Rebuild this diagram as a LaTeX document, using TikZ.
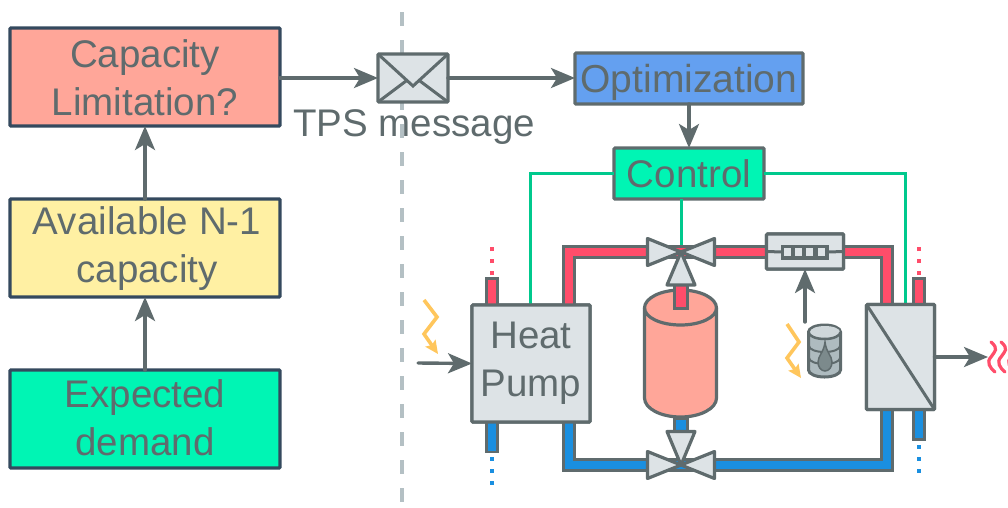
\documentclass[tikz,border=0pt]{standalone}
\usepackage{fontspec}
\setmainfont{Liberation Sans}
\usetikzlibrary{arrows.meta,calc}
\definecolor{ink}{HTML}{5F6B6D}
\definecolor{navy}{HTML}{34495E}
\definecolor{salmon}{HTML}{FFA699}
\definecolor{cream}{HTML}{FFF0A3}
\definecolor{mint}{HTML}{00F5B4}
\definecolor{optblue}{HTML}{64A0F0}
\definecolor{wire}{HTML}{00C98D}
\definecolor{hot}{HTML}{FF4D6A}
\definecolor{cold}{HTML}{1A8FE0}
\definecolor{pale}{HTML}{DDE3E6}
\definecolor{bolt}{HTML}{FFC65C}
\definecolor{dashc}{HTML}{B4C0C4}
\definecolor{barrel}{HTML}{AEBBBF}
\definecolor{drop}{HTML}{7C8A8C}
\newcommand{\twolines}[3]{\raisebox{-5pt}[40pt][40pt]{\begin{tabular}{@{}c@{}}\rule{0pt}{#1}#2\\#3\end{tabular}}}
\tikzset{
  every node/.style={text=ink,inner sep=0pt,outer sep=0pt,align=center,font=\fontsize{38.5}{48}\selectfont},
  leftbox/.style={draw=navy,line width=3.2pt,rounded corners=1pt,minimum width=270pt,minimum height=98pt},
  topbox/.style={draw=ink,line width=3.2pt,rounded corners=1pt},
  unit/.style={draw=ink,line width=3.2pt,rounded corners=1pt,fill=pale},
  flow/.style={draw=ink,line width=3.4pt,line cap=round,-{Stealth[length=24pt,width=20pt,inset=6pt,fill=ink]}},
  ctrl/.style={draw=wire,line width=3pt},
  pipeout/.style={draw=ink,line width=13.5pt},
  hotline/.style={draw=hot,line width=8pt},
  coldline/.style={draw=cold,line width=8pt},
  hotdots/.style={draw=hot,line width=4pt,dash pattern=on 4pt off 8pt},
  colddots/.style={draw=cold,line width=4pt,dash pattern=on 4pt off 8pt},
  zap/.style={draw=bolt,line width=3.6pt,-{Stealth[length=13pt,width=12pt,inset=2pt]}},
  valve/.style={draw=ink,line width=3.2pt,fill=pale,line join=round},
  thin/.style={draw=ink,line width=3pt},
  wave/.style={draw=hot,line width=3.2pt,line cap=round},
}
\begin{document}
\begin{tikzpicture}[x=1pt,y=-1pt]
\useasboundingbox (0,0) rectangle (1008,507);
% divider
\draw[dashc,line width=4pt,dash pattern=on 14pt off 14pt] (402,12) -- (402,507);
% left column
\node[leftbox,fill=salmon] (cap) at (145,77) {\twolines{45.6pt}{Capacity}{Limitation?}};
\node[leftbox,fill=cream] (avail) at (145,248) {\hspace*{4pt}\twolines{37.6pt}{Available N-1}{capacity}};
\node[leftbox,fill=mint] (demand) at (145,419) {\twolines{42.6pt}{Expected}{demand}};
\draw[flow] (demand) -- (avail);
\draw[flow] (avail) -- (cap);
% top row
\node[unit,minimum width=70pt,minimum height=48pt] (env) at (413,78) {};
\draw[thin] (env.north west) -- ($(env.center)+(0,8)$) -- (env.north east);
\draw[thin] (env.south west) -- ($(env.center)+(-7,3)$);
\draw[thin] (env.south east) -- ($(env.center)+(7,3)$);
\node[topbox,fill=optblue,minimum width=228pt,minimum height=51pt,text depth=0pt,font=\fontsize{39}{48}\selectfont] (opt) at (689,78.5) {Optimization};
\node[topbox,fill=mint,minimum width=150pt,minimum height=51pt] (ctl) at (689,173.5) {Control};
\draw[flow] (cap.east|-env) -- (env);
\draw[flow] (env) -- (opt.west|-env);
\draw[flow] (opt) -- (ctl);
\node (tps) at (414,127) {TPS message};
% plant nodes
\node[unit,minimum width=118pt,minimum height=117pt] (pump) at (531,363.5) {};
\node[unit,minimum width=68pt,minimum height=105pt] (hx) at (900.5,357) {};
\node[unit,minimum width=77pt,minimum height=35pt] (meter) at (805,251.5) {};
\coordinate (vt) at (681,252);
\coordinate (vb) at (681,465);
% control wires
\draw[ctrl] (ctl.west) -| ($(pump.north west)+(58,0)$);
\draw[ctrl] (ctl.east) -| ($(hx.north west)+(39,0)$);
\draw[ctrl] (ctl.south-|vt) -- (vt);
% hot circuit
\coordinate (pl) at (569,305);
\coordinate (pc1) at (569,252);
\coordinate (hxl) at (887,305);
\coordinate (pc2) at (887,252);
\draw[pipeout,line join=miter] (pl) -- (pc1) -- (vt);
\draw[hotline,line join=miter] (pl) -- (pc1) -- (vt);
\draw[pipeout,line join=miter] (hxl) -- (pc2) -- (vt);
\draw[hotline,line join=miter] (hxl) -- (pc2) -- (vt);
% cold circuit
\coordinate (pb) at (569,422);
\coordinate (cc1) at (569,465);
\coordinate (hxb) at (887,409);
\coordinate (cc2) at (887,465);
\draw[pipeout,line join=miter] (pb) -- (cc1) -- (vb);
\draw[coldline,line join=miter] (pb) -- (cc1) -- (vb);
\draw[pipeout,line join=miter] (hxb) -- (cc2) -- (vb);
\draw[coldline,line join=miter] (hxb) -- (cc2) -- (vb);
% stubs
\coordinate (s1a) at (492,305); \coordinate (s1b) at (492,277);
\draw[pipeout] (s1a) -- (s1b); \draw[hotline] (s1a) -- (492,279.5);
\draw[hotdots] (492,275) -- (492,247);
\coordinate (s2a) at (492,422); \coordinate (s2b) at (492,453);
\draw[pipeout] (s2a) -- (s2b); \draw[coldline] (s2a) -- (492,450.5);
\draw[colddots] (492,457) -- (492,485);
\coordinate (s3a) at (919,305); \coordinate (s3b) at (919,277);
\draw[pipeout] (s3a) -- (s3b); \draw[hotline] (s3a) -- (919,279.5);
\draw[hotdots] (919,275) -- (919,247);
\coordinate (s4a) at (919,409); \coordinate (s4b) at (919,440.5);
\draw[pipeout] (s4a) -- (s4b); \draw[coldline] (s4a) -- (919,438);
\draw[colddots] (919,445) -- (919,473);
% redraw units above pipes
\node[unit,minimum width=118pt,minimum height=117pt] at (pump) {\twolines{34.6pt}{Heat}{Pump}};
\node[unit,minimum width=68pt,minimum height=105pt] at (hx) {};
\draw[thin] (hx.north west) -- (hx.south east);
\node[unit,minimum width=77pt,minimum height=35pt] at (meter) {};
\node[draw=ink,line width=3pt,fill=ink,minimum width=45pt,minimum height=12pt] (gauge) at (805,252) {};
\draw[thin] (meter.west) -- (gauge.west);
\draw[thin] (gauge.east) -- (meter.east);
\foreach \gx in {787,798,809.5,821}{\fill[pale] (\gx-3.5,248) rectangle (\gx+3.5,256);}
% tank
\filldraw[draw=ink,line width=3.2pt,fill=salmon]
  (644.5,308) arc[start angle=180,end angle=0,x radius=36pt,y radius=18pt]
  -- (716.5,398) arc[start angle=0,end angle=-180,x radius=36pt,y radius=19pt] -- cycle;
\draw[thin,line width=3.2pt] (644.5,308) arc[start angle=180,end angle=360,x radius=36pt,y radius=17pt];
% tank stubs
\draw[draw=ink,line width=3pt,fill=hot] (674.5,282) rectangle (687.5,308);
\draw[draw=ink,line width=3pt,fill=cold] (674.5,418) rectangle (687.5,434);
% valves
\foreach \c in {vt,vb}{
  \draw[valve] (\c) -- ++(-33.5,-13.5) -- ++(0,27) -- cycle;
  \draw[valve] (\c) -- ++(33.5,-13.5) -- ++(0,27) -- cycle;
}
\draw[valve] (vt) -- ++(-14,33) -- ++(28,0) -- cycle;
\draw[valve] (vb) -- ++(-14,-33.5) -- ++(28,0) -- cycle;
% bolts and arrows
\coordinate (b1) at (424,300);
\draw[zap] (b1) -- (437,317) -- (424,334) -- (438,354);
\coordinate (b2) at (787,324);
\draw[zap] (b2) -- (799,342) -- (787,358) -- (801,378);
\coordinate (inl) at (418,363);
\draw[flow] (inl) -- (pump.west);
\coordinate (bt) at (805,322);
\draw[flow] (bt) -- (meter.south);
\coordinate (heat) at (988,357);
\draw[flow] (hx.east) -- (heat);
% barrel
\filldraw[draw=ink,line width=3pt,fill=barrel]
  (808.5,332) arc[start angle=180,end angle=0,x radius=16pt,y radius=7pt]
  -- (840.5,370) arc[start angle=0,end angle=-180,x radius=16pt,y radius=7pt] -- cycle;
\fill[pale!70!barrel] (810,332) arc[start angle=180,end angle=-180,x radius=15pt,y radius=6pt];
\draw[ink,line width=2.5pt] (808.5,332) arc[start angle=180,end angle=360,x radius=16pt,y radius=7pt];
\draw[ink,line width=2pt] (809,346) arc[start angle=180,end angle=360,x radius=15.5pt,y radius=6pt];
\draw[ink,line width=2pt] (809,358) arc[start angle=180,end angle=360,x radius=15.5pt,y radius=6pt];
\filldraw[draw=ink,line width=1.5pt,fill=drop] (825,342) .. controls (826,352) and (832,356) .. (832,362) .. controls (832,367) and (829,371) .. (825,371) .. controls (821,371) and (818,367) .. (818,362) .. controls (818,356) and (824,352) .. (825,342) -- cycle;
% heat waves
\begin{scope}
\clip (0,0) rectangle (1008,507);
\foreach \wx in {992,1002,1012}{
  \draw[wave] (\wx-1,342) .. controls (\wx+7,349) and (\wx+3,351) .. (\wx-1,357)
     .. controls (\wx-6,362) and (\wx-2,368) .. (\wx+3,372);
}
\end{scope}
\end{tikzpicture}
\end{document}
